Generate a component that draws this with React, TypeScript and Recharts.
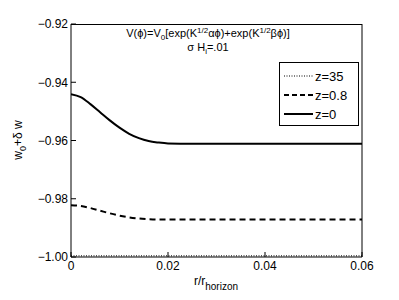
import { LineChart, Line, XAxis, YAxis, Customized } from 'recharts'

// r / r_horizon sample positions and w0 + δw values
const rValues = [0, 0.002, 0.004, 0.006, 0.008, 0.01, 0.012, 0.014, 0.016, 0.018, 0.02, 0.025, 0.03, 0.04, 0.05, 0.06]
const wZ35 = [-0.9996, -0.9996, -0.9996, -0.9996, -0.9996, -0.9996, -0.9996, -0.9996, -0.9996, -0.9996, -0.9996, -0.9996, -0.9996, -0.9996, -0.9996, -0.9996]
const wZ08 = [-0.9822, -0.9825, -0.9832, -0.9841, -0.985, -0.9858, -0.9864, -0.9868, -0.987, -0.9871, -0.9871, -0.9871, -0.9871, -0.9871, -0.9871, -0.9871]
const wZ0 = [-0.9441, -0.9451, -0.9475, -0.9503, -0.9531, -0.9556, -0.9577, -0.9592, -0.9602, -0.9607, -0.961, -0.9611, -0.9611, -0.9611, -0.9611, -0.9611]

const xTicks = [0, 0.02, 0.04, 0.06]
const yTicks = [-1.0, -0.98, -0.96, -0.94, -0.92]
const seriesLabels = ['z=35', 'z=0.8', 'z=0']

const data = rValues.map((r, i) => ({ r, z35: wZ35[i], z08: wZ08[i], z0: wZ0[i] }))

const FONT = '"Liberation Sans", Arial, sans-serif'

const fmtY = (v: number) => (v < 0 ? '\u2212' : '') + Math.abs(v).toFixed(2)
const fmtX = (v: number) => (v === 0 ? '0' : String(v))

const noLabel = () => <g />

const legendStyles = [
  { dash: '1 1.5', width: 1 },
  { dash: '5 3', width: 2 },
  { dash: undefined, width: 2 },
]

function Annotations() {
  return (
    <g fontFamily={FONT}>
      <text x={208} y={37} fontSize={11} textAnchor="middle" fill="#000">
        V(ϕ)=V<tspan fontSize={8} dy={3}>0</tspan>
        <tspan dy={-3}>[exp(K</tspan>
        <tspan fontSize={8} dy={-4}>1/2</tspan>
        <tspan dy={4}>αϕ)+exp(K</tspan>
        <tspan fontSize={8} dy={-4}>1/2</tspan>
        <tspan dy={4}>βϕ)]</tspan>
      </text>
      <text x={208} y={51} fontSize={11} textAnchor="middle" fill="#000">
        σ H<tspan fontSize={8} dy={3}>i</tspan>
        <tspan dy={-3}>=.01</tspan>
      </text>
      <text x={216} y={285} fontSize={12} textAnchor="middle" fill="#000">
        r/r<tspan fontSize={10} dy={5}>horizon</tspan>
      </text>
      <text x={22} y={140} fontSize={12} textAnchor="middle" fill="#000" transform="rotate(-90 22 140)">
        w<tspan fontSize={9} dy={4}>0</tspan>
        <tspan dy={-4}>+δ w</tspan>
      </text>
      {/* legend box */}
      <rect x={279.5} y={62.5} width={79} height={63} fill="#fff" stroke="#000" strokeWidth={1} />
      {seriesLabels.map((lab, i) => (
        <g key={lab}>
          <line x1={284} x2={313} y1={76 + i * 19} y2={76 + i * 19} stroke="#000" strokeWidth={legendStyles[i].width} strokeDasharray={legendStyles[i].dash} />
          <text x={315} y={81 + i * 19} fontSize={13} fill="#000">{lab}</text>
        </g>
      ))}
    </g>
  )
}

export default function App() {
  return (
    <div style={{ position: 'absolute', left: 0, top: 0, width: 399, height: 300, background: '#fff' }}>
      <LineChart width={399} height={300} data={data} margin={{ top: 24, right: 0, left: 0, bottom: 0 }}>
        <XAxis
          xAxisId="b"
          dataKey="r"
          type="number"
          domain={[0, 0.06]}
          ticks={xTicks}
          tickFormatter={fmtX}
          height={43}
          tickSize={-5}
          tickMargin={9}
          stroke="#000"
          tick={{ fill: '#000', fontSize: 12, fontFamily: FONT }}
          allowDataOverflow
        />
        <YAxis
          yAxisId="l"
          type="number"
          domain={[-1.0, -0.92]}
          ticks={yTicks}
          tickFormatter={fmtY}
          width={71}
          tickSize={-5}
          tickMargin={8}
          stroke="#000"
          tick={{ fill: '#000', fontSize: 12, fontFamily: FONT }}
          allowDataOverflow
        />
        <YAxis
          yAxisId="r"
          orientation="right"
          type="number"
          domain={[-1.0, -0.92]}
          ticks={yTicks}
          width={37}
          tickSize={-5}
          tick={noLabel}
          stroke="#000"
        />
        <Line xAxisId="b" yAxisId="l" dataKey="z35" name="z=35" stroke="#000" strokeWidth={1} strokeDasharray="1 1.5" dot={false} isAnimationActive={false} type="linear" />
        <Line xAxisId="b" yAxisId="l" dataKey="z08" name="z=0.8" stroke="#000" strokeWidth={2} strokeDasharray="6 4" dot={false} isAnimationActive={false} type="monotone" />
        <Line xAxisId="b" yAxisId="l" dataKey="z0" name="z=0" stroke="#000" strokeWidth={2} dot={false} isAnimationActive={false} type="monotone" />
        <Customized component={Annotations} />
      </LineChart>
      {/* top edge of the axes box */}
      <div style={{ position: 'absolute', left: 71, top: 24, width: 291, height: 1, background: '#000' }} />
    </div>
  )
}
